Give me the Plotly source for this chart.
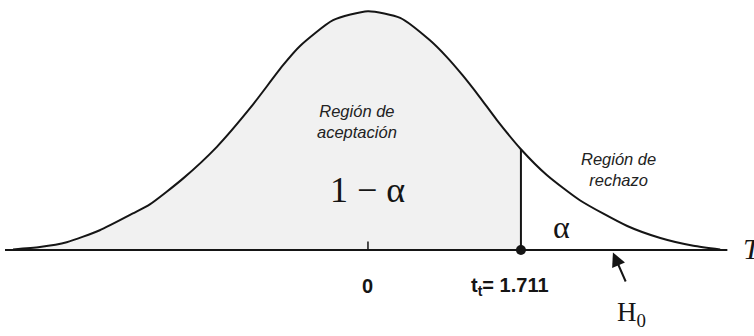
import plotly.graph_objects as go

# Curve (t units, relative density)
curve_x = [-3.97, -3.67, -3.37, -3.00, -2.63, -2.44, -2.07, -1.69, -1.31, -0.95, -0.76, -0.39, 0.0,
           0.36, 0.69, 0.88, 1.06, 1.25, 1.44, 1.711, 2.00, 2.37, 2.90, 3.27, 3.64, 3.94]
curve_y = [0.001, 0.005, 0.013, 0.033, 0.061, 0.076, 0.119, 0.172, 0.238, 0.308, 0.340, 0.383, 0.398,
           0.387, 0.350, 0.322, 0.291, 0.255, 0.217, 0.168, 0.125, 0.083, 0.040, 0.020, 0.007, 0.001]
t_crit = 1.711
t_crit_y = 0.168
tick_labels = ["0", "t<sub>t</sub>= 1.711"]
tick_vals = [0.0, t_crit]

INK = "#151515"
fig = go.Figure()

# acceptance region fill (under the curve, up to t_crit)
acc_x = [x for x in curve_x if x <= t_crit]
acc_y = [y for x, y in zip(curve_x, curve_y) if x <= t_crit]
fig.add_trace(go.Scatter(
    x=acc_x, y=acc_y, fill="tozeroy", fillcolor="#f1f1f1",
    line=dict(width=0, shape="spline", smoothing=0.6),
    mode="lines", hoverinfo="skip", showlegend=False))

# curve
fig.add_trace(go.Scatter(x=curve_x, y=curve_y, mode="lines",
                         line=dict(color=INK, width=2, shape="spline", smoothing=0.6),
                         hoverinfo="skip", showlegend=False))

# axis line
fig.add_trace(go.Scatter(x=[-4.06, 4.02], y=[0, 0], mode="lines",
                         line=dict(color=INK, width=2), hoverinfo="skip", showlegend=False))
# tick at 0
fig.add_trace(go.Scatter(x=[0, 0], y=[0, 0.014], mode="lines",
                         line=dict(color=INK, width=1.5), hoverinfo="skip", showlegend=False))
# critical value line
fig.add_trace(go.Scatter(x=[t_crit, t_crit], y=[0, t_crit_y], mode="lines",
                         line=dict(color=INK, width=2), hoverinfo="skip", showlegend=False))
# dot
fig.add_trace(go.Scatter(x=[t_crit], y=[0], mode="markers",
                         marker=dict(color=INK, size=10), hoverinfo="skip", showlegend=False))

sans_i = dict(family="Liberation Sans, Arial, sans-serif", size=16.5, color="#222")
serif = "Liberation Serif, Times New Roman, serif"

ann = [
    dict(x=-0.12, y=0.214, text="<i>Región de<br>aceptación</i>", font=sans_i),
    dict(x=2.80, y=0.135, text="<i>Región de<br>rechazo</i>", font=sans_i),
    dict(x=0, y=0.10, text="1 − α", font=dict(family=serif, size=36, color=INK)),
    dict(x=2.17, y=0.038, text="α", font=dict(family=serif, size=32, color=INK)),
    dict(x=2.95, y=-0.106, text="H<sub>0</sub>", font=dict(family=serif, size=27, color=INK)),
    dict(x=4.17, y=0.002, text="<i>T</i>", xanchor="left",
         font=dict(family=serif, size=30, color=INK)),
]
for v, lab in zip(tick_vals, tick_labels):
    ann.append(dict(x=v - (0.12 if v else 0), y=-0.06, text="<b>" + lab + "</b>",
                    font=dict(family="Liberation Sans, Arial, sans-serif", size=20, color=INK)))
for a in ann:
    a.setdefault("showarrow", False)
    a.setdefault("xref", "x")
    a.setdefault("yref", "y")

# arrow pointing to the axis
ann.append(dict(x=2.74, y=-0.004, ax=2.89, ay=-0.055, xref="x", yref="y",
                axref="x", ayref="y", showarrow=True, arrowhead=2, arrowsize=1.4,
                arrowwidth=2, arrowcolor=INK, text=""))

fig.update_layout(
    width=754, height=336, autosize=False,
    margin=dict(l=0, r=0, t=0, b=0),
    paper_bgcolor="white", plot_bgcolor="white",
    xaxis=dict(range=[-4.116, 4.318], visible=False, fixedrange=True),
    yaxis=dict(range=[-0.1433, 0.4167], visible=False, fixedrange=True),
    annotations=ann,
)
fig.write_html("out.html", config=dict(displayModeBar=False),
               post_script="document.body.style.margin='0';")
